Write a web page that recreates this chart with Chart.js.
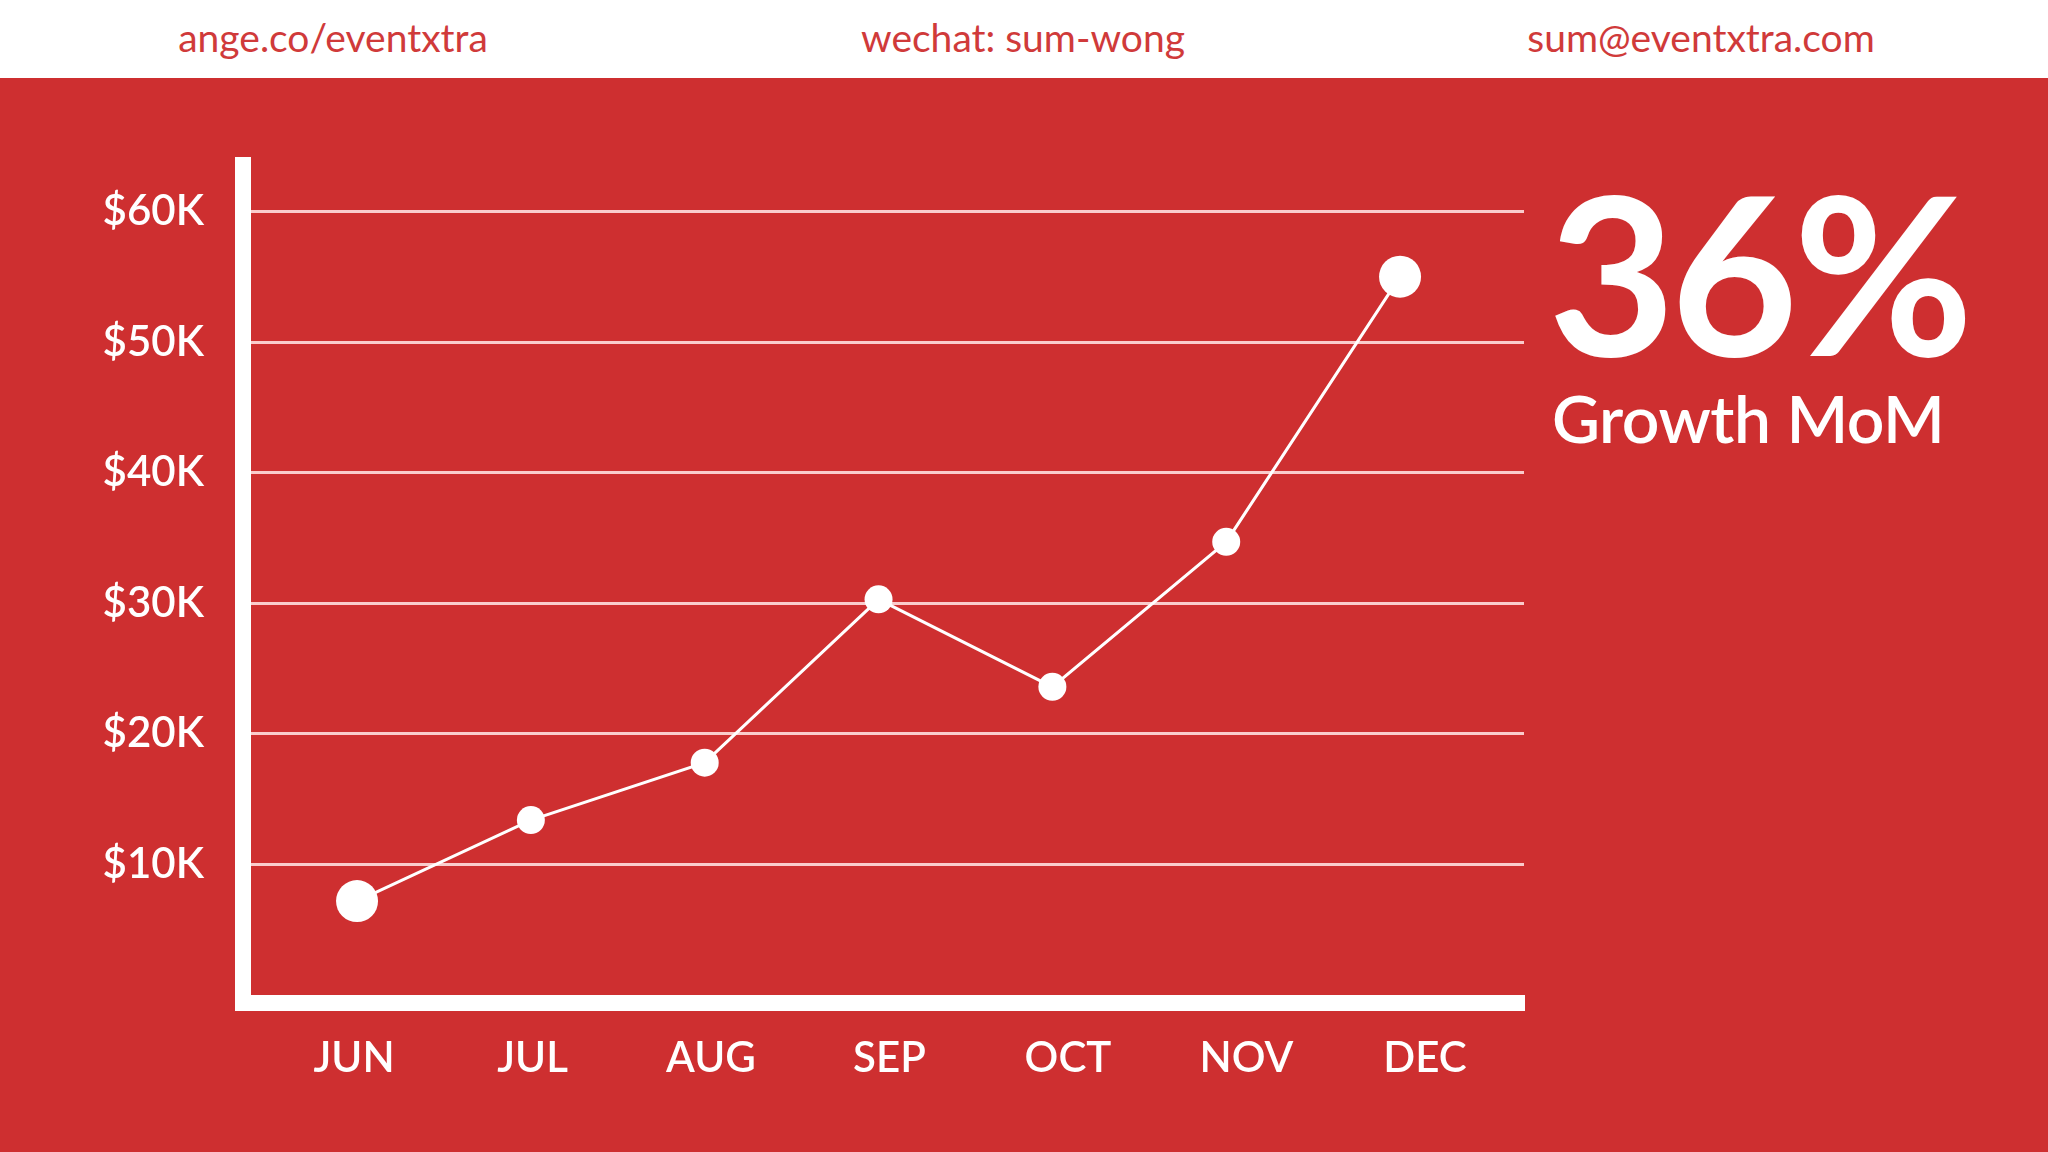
<!DOCTYPE html>
<html>
<head>
<meta charset="utf-8">
<title>Growth MoM</title>
<script src="https://cdn.jsdelivr.net/npm/chart.js@4.4.1/dist/chart.umd.min.js"></script>
<style>
    html, body { margin: 0; padding: 0; }
    body {
        width: 2048px;
        height: 1152px;
        position: relative;
        overflow: hidden;
        background: #ce2f30;
        font-family: Lato, "Open Sans", sans-serif;
    }
    #header {
        position: absolute;
        left: 0; top: 0;
        width: 2048px; height: 78px;
        background: #ffffff;
    }
    .link {
        position: absolute;
        top: 37px;
        transform: translate(-50%, -50%);
        color: #d03a3a;
        font-size: 39px;
        white-space: nowrap;
    }
    #salesChart { position: absolute; left: 0; top: 0; }
    #bigNumber {
        position: absolute;
        left: 1548px; top: 161px;
        color: #ffffff;
        font-size: 220px;
        font-weight: 700;
        line-height: 1;
        letter-spacing: -5px;
    }
    #bigLabel {
        position: absolute;
        left: 1552px; top: 385px;
        color: #ffffff;
        font-size: 66px;
        font-weight: 600;
        line-height: 1;
        letter-spacing: -0.5px;
    }
</style>
</head>
<body>
<div id="header">
    <div class="link" style="left:333px">ange.co/eventxtra</div>
    <div class="link" style="left:1023px">wechat: sum-wong</div>
    <div class="link" style="left:1701px">sum@eventxtra.com</div>
</div>
<canvas id="salesChart" width="2048" height="1152"></canvas>
<div id="bigNumber">36%</div>
<div id="bigLabel">Growth MoM</div>

<script>
// Monthly revenue, in thousands of dollars
const months = ['JUN', 'JUL', 'AUG', 'SEP', 'OCT', 'NOV', 'DEC'];
const revenueK = [7.2, 13.4, 17.8, 30.3, 23.6, 34.7, 55.0];
const yTickValues = [10, 20, 30, 40, 50, 60];

// first and last months get bigger dots
const pointSizes = months.map((m, i) => (i === 0 || i === months.length - 1) ? 21 : 14);

const white = '#ffffff';
const gridColor = 'rgba(255, 222, 222, 0.9)';
const labelFont = { family: 'Lato', size: 42, weight: '600' };

function initializeChart() {
    const ctx = document.getElementById('salesChart').getContext('2d');

    // linear x scale so the months can sit where the original put them
    const points = months.map((m, i) => ({ x: i, y: revenueK[i] }));

    new Chart(ctx, {
        type: 'line',
        data: {
            datasets: [{
                label: 'Revenue',
                data: points,
                xAxisID: 'x',
                borderColor: white,
                borderWidth: 3,
                pointRadius: pointSizes,
                pointHoverRadius: pointSizes,
                pointBackgroundColor: white,
                pointBorderWidth: 0,
                tension: 0,
                clip: false
            }]
        },
        options: {
            responsive: false,
            animation: false,
            devicePixelRatio: 1,
            layout: {
                padding: { left: 0, top: 165, right: 524, bottom: 0 }
            },
            plugins: {
                legend: { display: false },
                tooltip: { enabled: false }
            },
            scales: {
                // axis for the points, only its thick baseline is shown
                x: {
                    type: 'linear',
                    position: 'bottom',
                    min: -0.656,
                    max: 6.713,
                    afterFit: scale => { scale.height = 0; },
                    grid: { display: false, drawTicks: false },
                    border: { display: true, color: white, width: 16 },
                    ticks: { display: false, stepSize: 1 }
                },
                // month labels, spaced a little wider than the points
                months: {
                    type: 'linear',
                    position: 'bottom',
                    min: -0.622,
                    max: 6.555,
                    afterFit: scale => { scale.height = 149; },
                    grid: { display: false, drawTicks: false },
                    border: { display: false },
                    ticks: {
                        stepSize: 1,
                        includeBounds: false,
                        padding: 30,
                        color: white,
                        font: labelFont,
                        callback: value => months[value] || ''
                    }
                },
                y: {
                    min: -0.6,
                    max: 63.55,
                    afterFit: scale => { scale.width = 243; },
                    grid: {
                        drawTicks: false,
                        lineWidth: 3,
                        color: c => (c.tick && c.tick.value === 0) ? 'rgba(0,0,0,0)' : gridColor
                    },
                    border: { display: true, color: white, width: 16 },
                    ticks: {
                        stepSize: 10,
                        includeBounds: false,
                        padding: 39,
                        color: white,
                        font: labelFont,
                        callback: value => yTickValues.includes(value) ? '$' + value + 'K' : ''
                    }
                }
            }
        }
    });
}

document.addEventListener('DOMContentLoaded', initializeChart);
</script>
</body>
</html>
